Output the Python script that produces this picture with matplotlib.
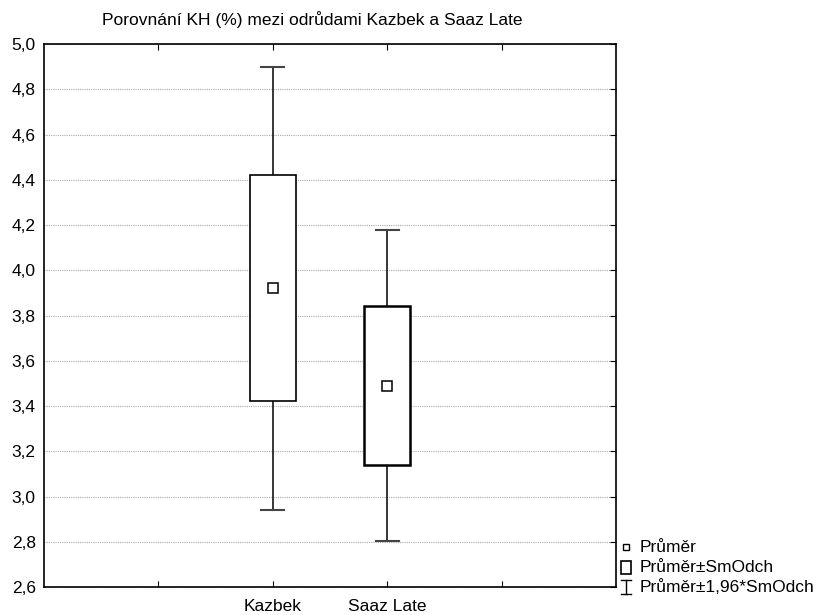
import matplotlib
matplotlib.use("Agg")
import matplotlib.pyplot as plt
from matplotlib.patches import Rectangle
from matplotlib.lines import Line2D

plt.rcParams['font.family'] = ['Liberation Sans', 'DejaVu Sans']

categories = ["Kazbek", "Saaz Late"]
means = [3.92, 3.49]
sd = [0.50, 0.35]
ci_factor = 1.96
title = "Porovnání KH (%) mezi odrůdami Kazbek a Saaz Late"
legend_labels = ["Průměr", "Průměr±SmOdch", "Průměr±1,96*SmOdch"]
yticks = [2.6, 2.8, 3.0, 3.2, 3.4, 3.6, 3.8, 4.0, 4.2, 4.4, 4.6, 4.8, 5.0]

FS = 12.5
fig = plt.figure(figsize=(8.19, 6.15), dpi=100)
ax = fig.add_axes([44/819, 1-587/615, (616-44)/819, (587-44)/615])

positions = [2, 3]
box_w = 0.4
cap_w = 0.2
box_lw = [1.2, 1.8]
for x, m, s, lw in zip(positions, means, sd, box_lw):
    lo, hi = m - ci_factor*s, m + ci_factor*s
    ax.plot([x, x], [lo, m - s], color='black', lw=1.1, zorder=3)
    ax.plot([x, x], [m + s, hi], color='black', lw=1.1, zorder=3)
    ax.plot([x - cap_w/2, x + cap_w/2], [lo, lo], color='#444444', lw=1.5, zorder=3)
    ax.plot([x - cap_w/2, x + cap_w/2], [hi, hi], color='#444444', lw=1.5, zorder=3)
    ax.add_patch(Rectangle((x - box_w/2, m - s), box_w, 2*s, facecolor='white',
                           edgecolor='black', lw=lw, zorder=4))
    ax.plot([x], [m], marker='s', ms=6.5, mfc='white', mec='black', mew=1.1, zorder=5)

ax.set_xlim(0, 5)
ax.set_ylim(2.6, 5.0)
ax.set_yticks(yticks)
ax.set_yticklabels([f"{v:.1f}".replace('.', ',') for v in yticks], fontsize=FS)
ax.set_xticks([1, 2, 3, 4])
ax.set_xticklabels(["", categories[0], categories[1], ""], fontsize=FS)
ax.tick_params(axis='x', direction='in', length=4, top=True, bottom=True, pad=8.5)
ax.tick_params(axis='y', direction='in', length=4, left=False, right=True, pad=6)
ax.yaxis.grid(True, linestyle=(0, (1, 1)), color='#aaaaaa', lw=0.8)
ax.set_axisbelow(True)
for sp in ax.spines.values():
    sp.set_linewidth(1.2)

fig.text(312/819, 1-20/615, title, ha='center', va='center', fontsize=FS)

# legend (figure pixel coords)
def fx(px): return px/819
def fy(py): return 1 - py/615
leg_y = [547, 567, 587]
fig.add_artist(Line2D([fx(626)], [fy(leg_y[0])], marker='s', ms=5, mfc='white', mec='black', mew=1.0))
fig.add_artist(Rectangle((fx(621), fy(leg_y[1]+6.5)), 10/819, 13/615, facecolor='white',
                         edgecolor='black', lw=1.2, transform=fig.transFigure))
fig.add_artist(Line2D([fx(626), fx(626)], [fy(leg_y[2]-7), fy(leg_y[2]+7)], color='black', lw=1.0))
fig.add_artist(Line2D([fx(621), fx(631)], [fy(leg_y[2]-7), fy(leg_y[2]-7)], color='black', lw=1.0))
fig.add_artist(Line2D([fx(621), fx(631)], [fy(leg_y[2]+7), fy(leg_y[2]+7)], color='black', lw=1.0))
for y, lab in zip(leg_y, legend_labels):
    fig.text(fx(640), fy(y), lab, ha='left', va='center', fontsize=FS)

fig.savefig("out.png", dpi=100)
